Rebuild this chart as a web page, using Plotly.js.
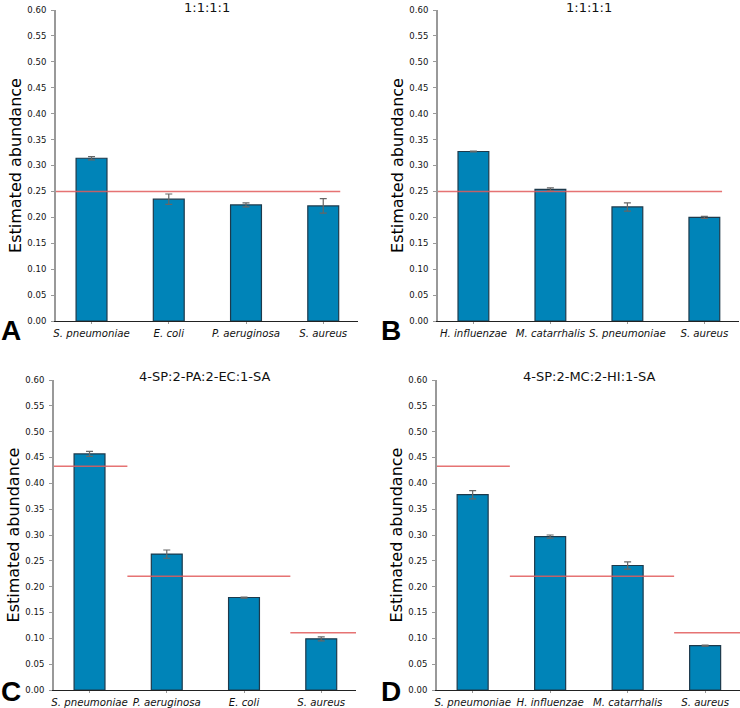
<!DOCTYPE html>
<html>
<head>
<meta charset="utf-8">
<script src="https://cdn.plot.ly/plotly-3.0.1.min.js"></script>
<style>
  body { margin: 0; background: #fff; }
  #chart { width: 740px; height: 708px; }
</style>
</head>
<body>
<div id="chart"></div>
<script>
// 패널별 데이터 (값은 그림에서 읽음)
const speciesA = ['S. pneumoniae', 'E. coli', 'P. aeruginosa', 'S. aureus'];
const meanA = [0.314, 0.235, 0.224, 0.222];
const errA = [0.003, 0.010, 0.004, 0.014];
const expectA = [0.25];
const expectSpanA = [[-0.46, 3.22]];

const speciesB = ['H. influenzae', 'M. catarrhalis', 'S. pneumoniae', 'S. aureus'];
const meanB = [0.327, 0.254, 0.220, 0.200];
const errB = [0.001, 0.003, 0.008, 0.002];
const expectB = [0.25];
const expectSpanB = [[-0.46, 3.23]];

const speciesC = ['S. pneumoniae', 'P. aeruginosa', 'E. coli', 'S. aureus'];
const meanC = [0.457, 0.263, 0.179, 0.099];
const errC = [0.005, 0.008, 0.001, 0.004];
const expectC = [0.433, 0.22, 0.111];
const expectSpanC = [[-0.46, 0.49], [0.49, 2.60], [2.60, 3.45]];

const speciesD = ['S. pneumoniae', 'H. influenzae', 'M. catarrhalis', 'S. aureus'];
const meanD = [0.378, 0.297, 0.241, 0.086];
const errD = [0.008, 0.003, 0.007, 0.001];
const expectD = [0.433, 0.22, 0.111];
const expectSpanD = [[-0.46, 0.48], [0.48, 2.60], [2.60, 3.45]];

const titles = ['1:1:1:1', '1:1:1:1', '4-SP:2-PA:2-EC:1-SA', '4-SP:2-MC:2-HI:1-SA'];
const letters = ['A', 'B', 'C', 'D'];
const yTicks = [0, 0.05, 0.10, 0.15, 0.20, 0.25, 0.30, 0.35, 0.40, 0.45, 0.50, 0.55, 0.60];

const W = 740, H = 708;
// 패널 위치 (픽셀): 왼쪽, 오른쪽, 위, 아래
const boxes = [
    { l: 56, r: 358, t: 10, b: 321 },
    { l: 438, r: 739, t: 10, b: 321 },
    { l: 54, r: 356, t: 380, b: 690 },
    { l: 437, r: 740, t: 380, b: 690 }
];

const panels = [
    [speciesA, meanA, errA, expectA, expectSpanA],
    [speciesB, meanB, errB, expectB, expectSpanB],
    [speciesC, meanC, errC, expectC, expectSpanC],
    [speciesD, meanD, errD, expectD, expectSpanD]
];

const font = 'DejaVu Sans, sans-serif';
const traces = [];
const layout = {
    width: W,
    height: H,
    margin: { l: 0, r: 0, t: 0, b: 0 },
    paper_bgcolor: '#fff',
    plot_bgcolor: '#fff',
    showlegend: false,
    font: { family: font, color: '#111' },
    annotations: []
};

panels.forEach((p, i) => {
    const [species, means, errs, expects, spans] = p;
    const n = i === 0 ? '' : String(i + 1);
    const xa = 'x' + n, ya = 'y' + n;
    const idx = species.map((s, k) => k);

    traces.push({
        type: 'bar',
        x: idx,
        y: means,
        width: 0.4,
        xaxis: xa,
        yaxis: ya,
        marker: { color: '#0084b8', line: { color: '#1d3a4c', width: 1.2 } },
        error_y: { type: 'data', array: errs, visible: true, color: '#666', thickness: 1.2, width: 3.5 }
    });

    expects.forEach((v, k) => {
        traces.push({
            type: 'scatter',
            mode: 'lines',
            x: spans[k],
            y: [v, v],
            xaxis: xa,
            yaxis: ya,
            line: { color: 'rgba(226, 90, 90, 0.85)', width: 1.5 },
            hoverinfo: 'skip'
        });
    });

    const bx = boxes[i];
    layout['xaxis' + n] = {
        domain: [bx.l / W, bx.r / W],
        anchor: ya,
        range: [-0.46, 3.45],
        tickvals: idx,
        ticktext: species.map(s => '<i>' + s + '</i>'),
        tickangle: 0,
        tickfont: { family: font, size: 10.2, color: '#111' },
        ticks: 'outside',
        ticklen: 2,
        tickcolor: '#999',
        showgrid: false,
        zeroline: false,
        showline: true,
        linecolor: '#222',
        linewidth: 1.3,
        fixedrange: true
    };
    layout['yaxis' + n] = {
        domain: [1 - bx.b / H, 1 - bx.t / H],
        anchor: xa,
        range: [0, 0.6],
        tickvals: yTicks,
        tickformat: '.2f',
        tickfont: { family: font, size: 8.5, color: '#111' },
        ticks: 'outside',
        ticklen: 3,
        tickcolor: '#999',
        ticklabelstandoff: 3,
        showgrid: false,
        zeroline: false,
        showline: true,
        linecolor: '#999',
        linewidth: 2,
        title: { text: 'Estimated abundance', font: { family: font, size: 16, color: '#000' }, standoff: 2 },
        fixedrange: true
    };

    // 패널 제목
    layout.annotations.push({
        xref: 'paper', yref: 'paper',
        x: (bx.l + bx.r) / 2 / W,
        y: 1 - (bx.t - 3) / H,
        text: titles[i],
        showarrow: false,
        xanchor: 'center', yanchor: 'middle',
        font: { family: font, size: 13, color: '#111' }
    });
    // 패널 문자 (아래쪽 패널은 그림 아래 끝에 맞춤)
    layout.annotations.push({
        xref: 'paper', yref: 'paper',
        x: (i % 2 === 0 ? 11 : 391) / W,
        y: i < 2 ? 1 - 331 / H : 0,
        text: '<b>' + letters[i] + '</b>',
        showarrow: false,
        xanchor: 'center', yanchor: i < 2 ? 'middle' : 'bottom',
        borderpad: 0,
        font: { family: 'Liberation Sans, Arial, sans-serif', size: 28, color: '#000' }
    });
});

Plotly.newPlot('chart', traces, layout, { staticPlot: true, displayModeBar: false });
</script>
</body>
</html>
